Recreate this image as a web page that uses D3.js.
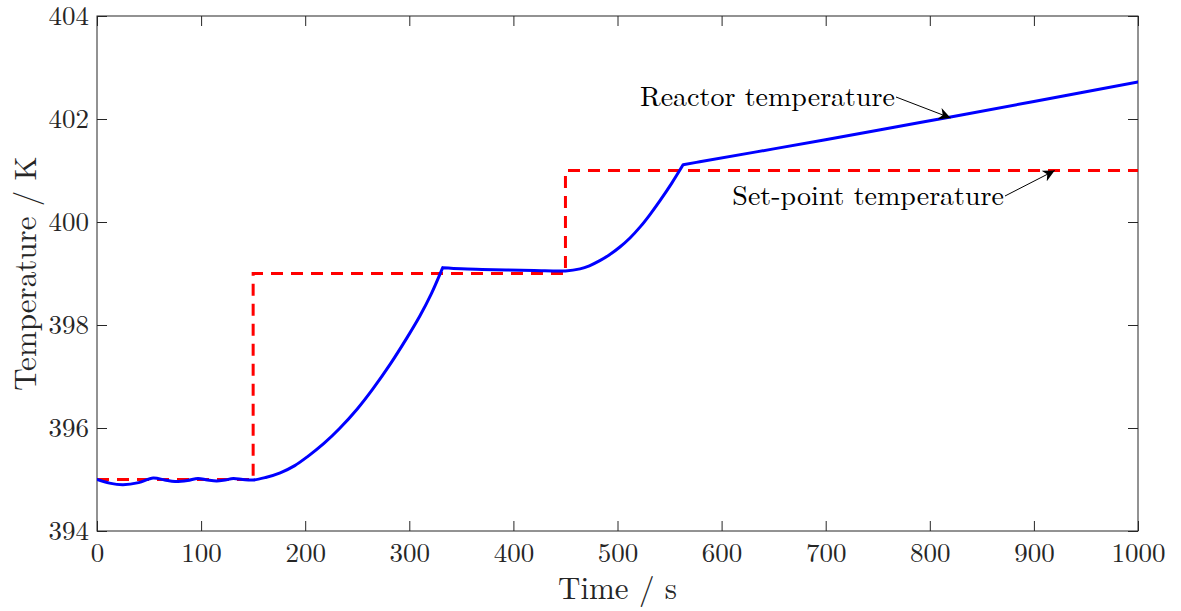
<!DOCTYPE html>
<html>
<head>
<meta charset="utf-8">
<script src="https://cdn.jsdelivr.net/npm/d3@7"></script>
<style>
  body { margin: 0; background: #fff; }
  text { font-family: "Latin Modern Roman", "CMU Serif", "Liberation Serif", "DejaVu Serif", serif; fill: #262626; }
</style>
</head>
<body>
<svg id="chart" width="1181" height="611"></svg>
<script>
// reactor temperature
const reactorTime = [0, 12, 25, 40, 54, 65, 75, 87, 97, 106, 115, 123, 131, 140, 150, 162, 176, 190, 202, 218, 233, 250, 265, 282, 298, 310, 321, 332,
  350, 370, 393, 420, 450, 464, 473, 483, 492, 502, 512, 522, 531, 541, 552, 563, 579, 650, 750, 820, 900, 1000];
const reactorTemp = [395.0, 394.93, 394.90, 394.94, 395.03, 394.99, 394.96, 394.98, 395.02, 394.99, 394.97, 394.99, 395.02, 395.0, 394.99, 395.04, 395.13, 395.27, 395.44, 395.70, 395.99, 396.37, 396.76, 397.25, 397.76, 398.17, 398.60, 399.11,
  399.09, 399.08, 399.07, 399.06, 399.05, 399.09, 399.15, 399.25, 399.36, 399.51, 399.69, 399.91, 400.14, 400.42, 400.75, 401.11, 401.17, 401.42, 401.78, 402.04, 402.34, 402.72];
// controller switching times (sharp corners in the reactor curve)
const cornerTimes = [332, 563];

// set-point steps
const setTime = [0, 150, 150, 450, 450, 1000];
const setTemp = [395, 395, 399, 399, 401, 401];

const xTicks = [0, 100, 200, 300, 400, 500, 600, 700, 800, 900, 1000];
const yTicks = [394, 396, 398, 400, 402, 404];

const svg = d3.select("#chart");
const plotL = 97, plotR = 1138, plotT = 16, plotB = 531;

const x = d3.scaleLinear().domain([0, 1000]).range([plotL, plotR]);
const y = d3.scaleLinear().domain([394, 404]).range([plotB, plotT]);

// axes with inward ticks, box on
const axisColor = "#262626";
function styleAxis(g) {
  g.select(".domain").remove();
  g.selectAll("line").attr("stroke", axisColor);
  g.selectAll("text").attr("font-size", "27px").style("fill", axisColor);
}
svg.append("g").attr("transform", `translate(0,${plotB})`)
  .call(d3.axisBottom(x).tickValues(xTicks).tickFormat(d3.format("d")).tickSizeInner(-10).tickSizeOuter(0).tickPadding(12))
  .call(styleAxis);
svg.append("g").attr("transform", `translate(0,${plotT})`)
  .call(d3.axisTop(x).tickValues(xTicks).tickSizeInner(-10).tickSizeOuter(0).tickFormat(""))
  .call(styleAxis);
svg.append("g").attr("transform", `translate(${plotL},0)`)
  .call(d3.axisLeft(y).tickValues(yTicks).tickSizeInner(-10).tickSizeOuter(0).tickPadding(8))
  .call(styleAxis);
svg.append("g").attr("transform", `translate(${plotR},0)`)
  .call(d3.axisRight(y).tickValues(yTicks).tickSizeInner(-10).tickSizeOuter(0).tickFormat(""))
  .call(styleAxis);

svg.append("rect")
  .attr("x", plotL).attr("y", plotT)
  .attr("width", plotR - plotL).attr("height", plotB - plotT)
  .attr("fill", "none").attr("stroke", axisColor).attr("stroke-width", 1);

const line = d3.line().x(d => x(d[0])).y(d => y(d[1]));

svg.append("clipPath").attr("id", "clip")
  .append("rect").attr("x", plotL).attr("y", plotT).attr("width", plotR - plotL).attr("height", plotB - plotT);

svg.append("path")
  .datum(setTime.map((t, i) => [t, setTemp[i]]))
  .attr("d", line)
  .attr("fill", "none")
  .attr("stroke", "#ff0000")
  .attr("stroke-width", 3)
  .attr("stroke-dasharray", "12,8")
  .attr("clip-path", "url(#clip)");

// smooth pieces between corners, so the corners stay sharp
const reactorPts = reactorTime.map((t, i) => [t, reactorTemp[i]]);
const smooth = d3.line().curve(d3.curveCatmullRom.alpha(0.5)).x(d => x(d[0])).y(d => y(d[1]));
const bounds = [0, ...cornerTimes, 1000];
let dStr = "";
for (let k = 0; k < bounds.length - 1; k++) {
  const seg = reactorPts.filter(p => p[0] >= bounds[k] && p[0] <= bounds[k + 1]);
  dStr += smooth(seg);
}
svg.append("path")
  .attr("d", dStr)
  .attr("fill", "none")
  .attr("stroke", "#0000ff")
  .attr("stroke-width", 3)
  .attr("stroke-linecap", "round")
  .attr("clip-path", "url(#clip)");

// axis labels
svg.append("text")
  .attr("x", (plotL + plotR) / 2).attr("y", 599)
  .attr("text-anchor", "middle")
  .attr("font-size", "31px")
  .text("Time / s");

svg.append("text")
  .attr("transform", `translate(36,${(plotT + plotB) / 2}) rotate(-90)`)
  .attr("text-anchor", "middle")
  .attr("font-size", "31px")
  .text("Temperature / K");

// annotations
svg.append("defs").append("marker")
  .attr("id", "arrow").attr("viewBox", "0 0 10 10")
  .attr("refX", 10).attr("refY", 5)
  .attr("markerWidth", 12).attr("markerHeight", 12)
  .attr("markerUnits", "userSpaceOnUse")
  .attr("orient", "auto")
  .append("path").attr("d", "M0,0 L10,5 L0,10 L3,5 Z").attr("fill", "#000");

function annotate(label, tx, ty, x1, y1, t, temp) {
  svg.append("text")
    .attr("x", tx).attr("y", ty)
    .attr("text-anchor", "end")
    .attr("font-size", "28px")
    .style("fill", "#000")
    .text(label);
  svg.append("line")
    .attr("x1", x1).attr("y1", y1)
    .attr("x2", x(t)).attr("y2", y(temp))
    .attr("stroke", "#000").attr("stroke-width", 1)
    .attr("marker-end", "url(#arrow)");
}
annotate("Reactor temperature", 895, 106, 896, 97, 820, 402.02);
annotate("Set-point temperature", 1004, 205, 1005, 196, 920, 401.0);
</script>
</body>
</html>
